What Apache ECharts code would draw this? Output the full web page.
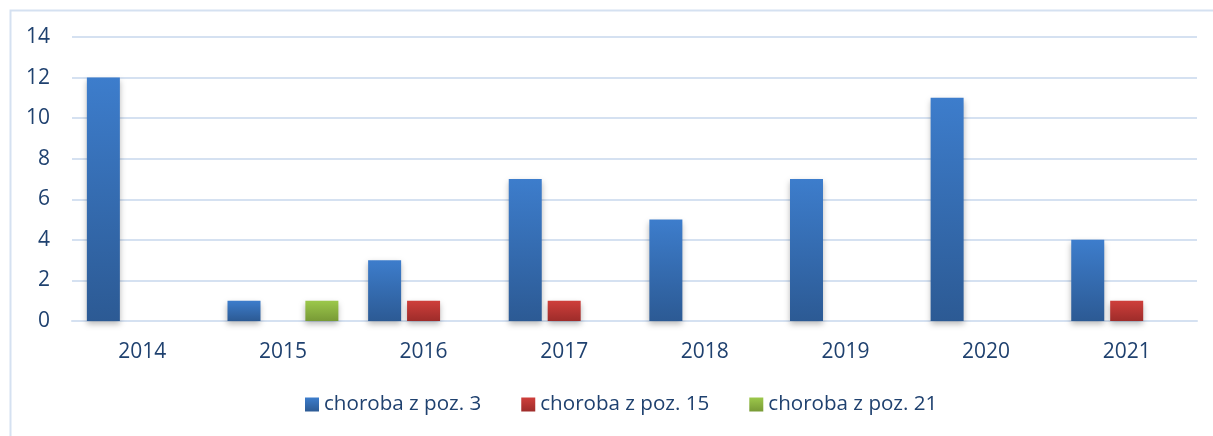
<!DOCTYPE html>
<html>
<head>
<meta charset="utf-8">
<script src="https://cdn.jsdelivr.net/npm/echarts@6/dist/echarts.min.js"></script>
<style>
  html, body { margin: 0; padding: 0; background: #fff; }
  #chart { width: 1213px; height: 436px; }
</style>
</head>
<body>
<div id="chart"></div>
<script>
var years = ["2014", "2015", "2016", "2017", "2018", "2019", "2020", "2021"];
var seriesNames = ["choroba z poz. 3", "choroba z poz. 15", "choroba z poz. 21"];
var poz3 = [12, 1, 3, 7, 5, 7, 11, 4];
var poz15 = [0, 0, 1, 1, 0, 0, 0, 1];
var poz21 = [0, 1, 0, 0, 0, 0, 0, 0];

var textColor = "#1f416f";
var lineColor = "#d5e1f1";
var font = "Open Sans";

function grad(top, bottom) {
  return new echarts.graphic.LinearGradient(0, 0, 0, 1, [
    { offset: 0, color: top },
    { offset: 1, color: bottom }
  ]);
}

function barSeries(name, values, top, bottom) {
  return {
    name: name,
    type: "bar",
    // zero bars are not drawn in the original
    data: values.map(function (v) { return v === 0 ? null : v; }),
    barWidth: 33,
    barGap: "18%",
    itemStyle: {
      color: grad(top, bottom),
      shadowColor: "rgba(0, 0, 0, 0.28)",
      shadowBlur: 6,
      shadowOffsetY: 3
    }
  };
}

var chart = echarts.init(document.getElementById("chart"));

var option = {
  animation: false,
  textStyle: { fontFamily: font },
  graphic: [
    {
      type: "rect",
      left: 8,
      top: 8,
      shape: { width: 1220, height: 440 },
      style: { fill: "none", stroke: lineColor, lineWidth: 2 },
      silent: true
    }
  ],
  grid: {
    left: 72,
    right: 16,
    top: 37,
    bottom: 115
  },
  legend: {
    bottom: 16,
    left: 300,
    itemWidth: 14,
    itemHeight: 14,
    itemGap: 40,
    icon: "rect",
    textStyle: { color: textColor, fontSize: 20.6, fontFamily: font },
    data: seriesNames
  },
  xAxis: {
    type: "category",
    data: years,
    axisLine: { lineStyle: { color: lineColor, width: 2 } },
    axisTick: { show: false },
    axisLabel: { color: textColor, fontSize: 21, margin: 21, fontFamily: font }
  },
  yAxis: {
    type: "value",
    min: 0,
    max: 14,
    interval: 2,
    axisLine: { show: false },
    axisTick: { show: false },
    axisLabel: { color: textColor, fontSize: 21, margin: 22, fontFamily: font },
    splitLine: { lineStyle: { color: lineColor, width: 2 } }
  },
  series: [
    barSeries(seriesNames[0], poz3, "#3d7dcc", "#2c5a94"),
    barSeries(seriesNames[1], poz15, "#cf3f3b", "#9e2c2a"),
    barSeries(seriesNames[2], poz21, "#9cc84b", "#789a36")
  ]
};

chart.setOption(option);
</script>
</body>
</html>
